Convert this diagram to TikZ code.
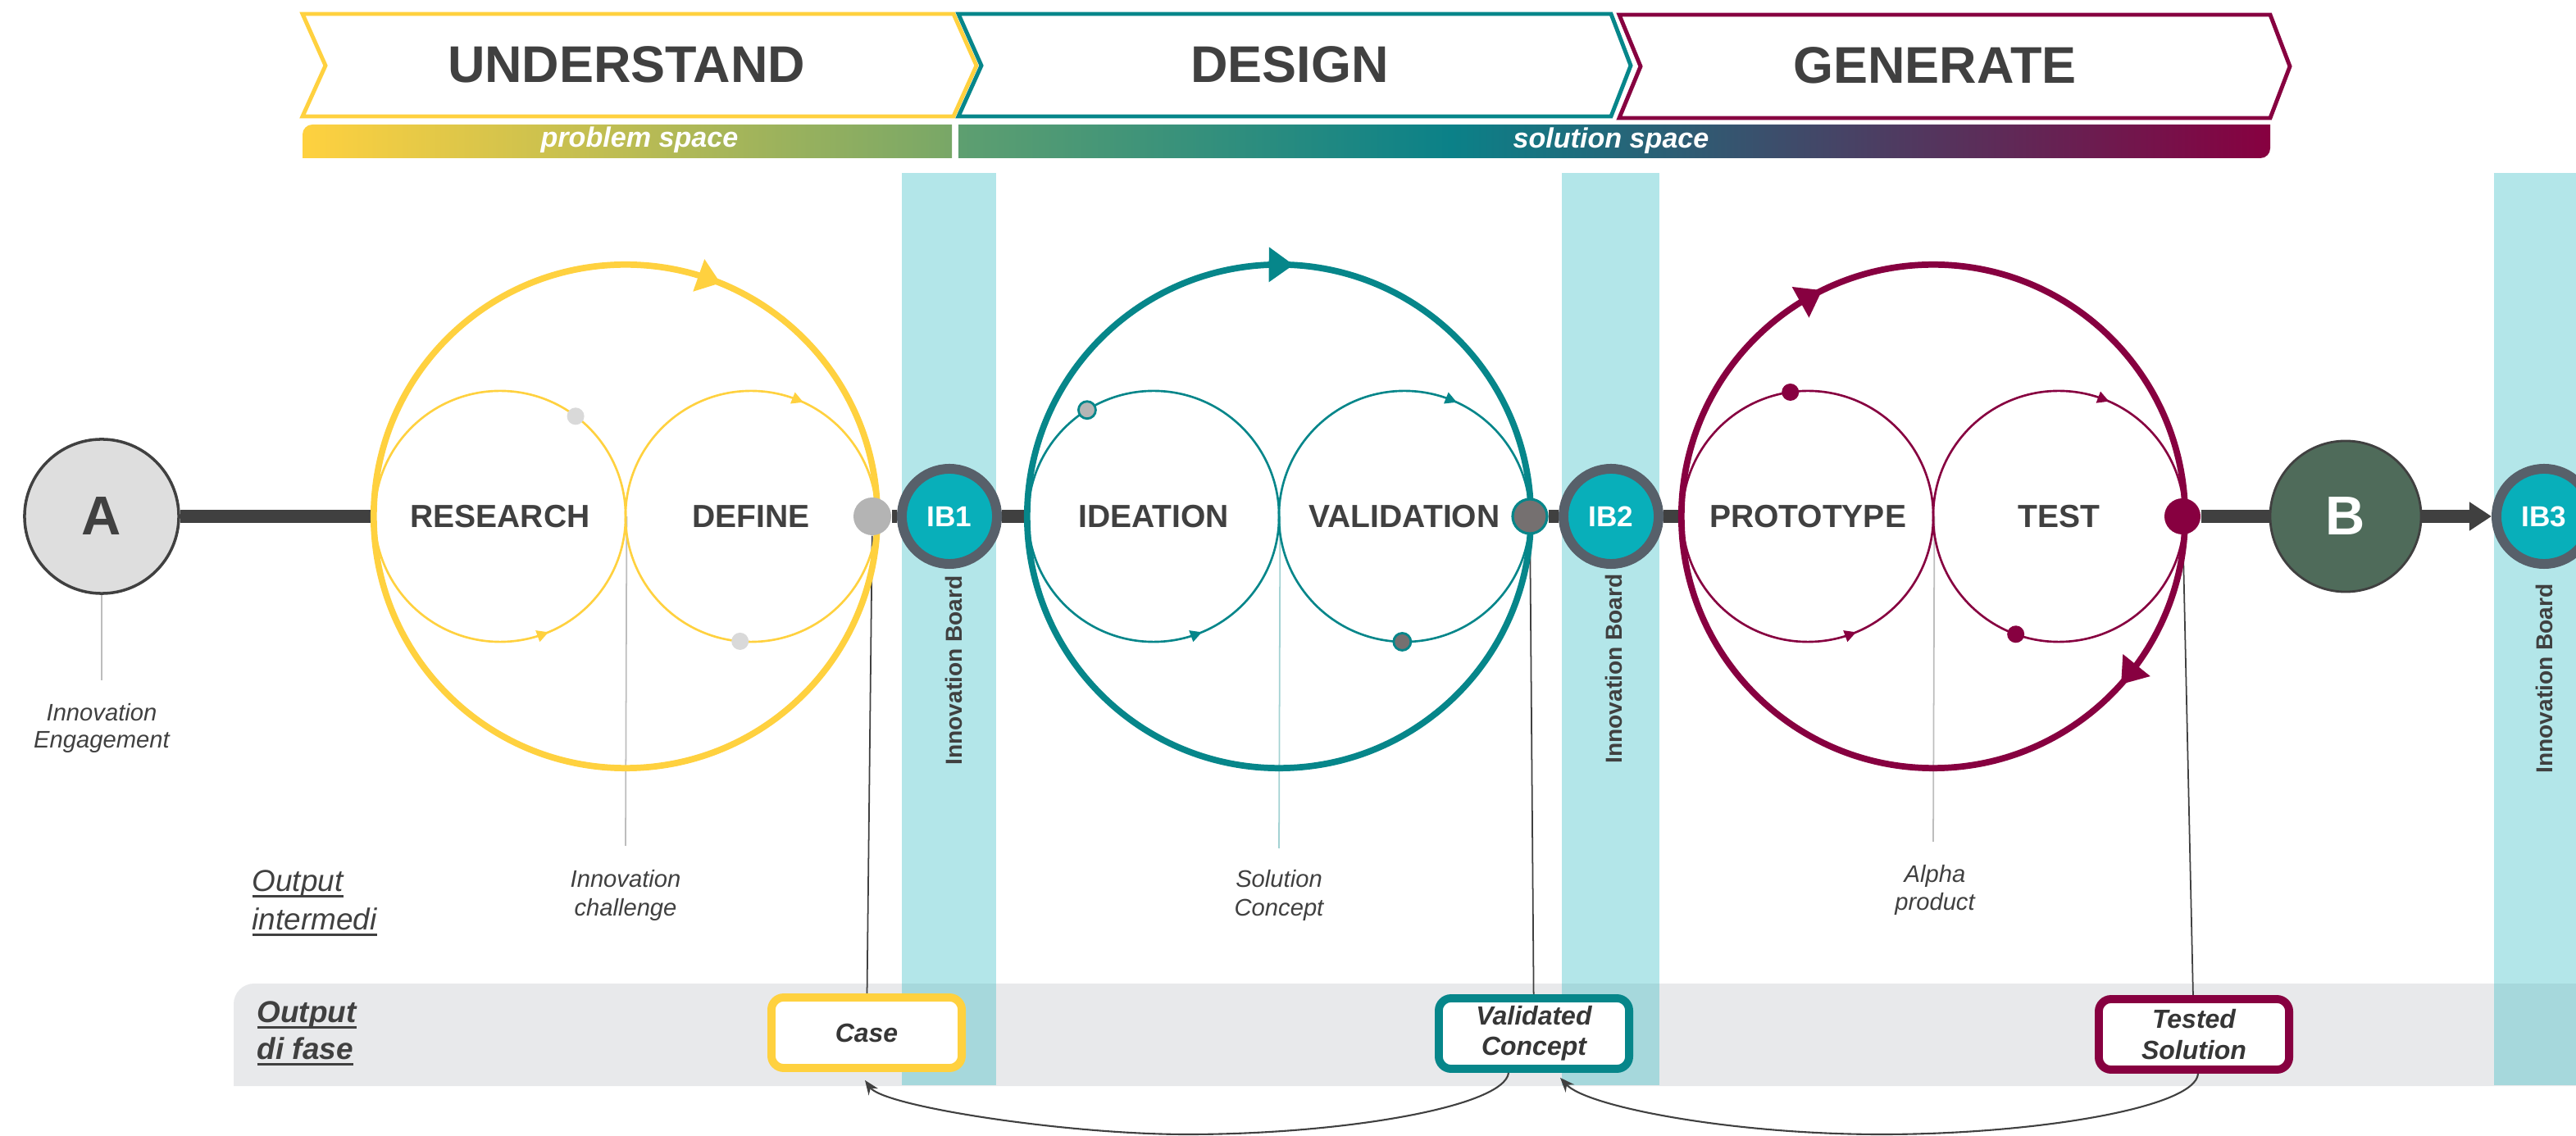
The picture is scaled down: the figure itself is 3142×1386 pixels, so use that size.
\documentclass[tikz,border=0pt]{standalone}
\usepackage{fontspec}
\setmainfont{Liberation Sans}
\usetikzlibrary{arrows.meta,calc}
\pgfdeclarelayer{bg}
\pgfsetlayers{bg,main}
\definecolor{ylw}{HTML}{FFD13F}
\definecolor{tl}{HTML}{06868A}
\definecolor{mr}{HTML}{870040}
\definecolor{dk}{HTML}{404040}
\definecolor{ibfill}{HTML}{08AFBA}
\definecolor{ibedge}{HTML}{57606A}
\definecolor{bandc}{HTML}{B3E6E9}
\definecolor{gband}{HTML}{E8E9EB}
\definecolor{overlapc}{HTML}{A6D8DC}
\definecolor{bfill}{HTML}{4F6B5A}
\definecolor{afill}{HTML}{DEDEDE}
\definecolor{jyc}{HTML}{B4B4B4}
\definecolor{lgray}{HTML}{B5B5B5}
\definecolor{ltgray}{HTML}{D9D9D9}
\definecolor{dgdot}{HTML}{757070}
\definecolor{ltteal}{HTML}{A3D2D3}
\definecolor{ltline}{HTML}{BDBDBD}
\definecolor{gA}{HTML}{78A767}
\definecolor{gB}{HTML}{5E9F70}
\definecolor{midt}{HTML}{0B8188}
\pgfdeclarehorizontalshading{probshade}{100bp}{color(0bp)=(ylw); color(25bp)=(ylw); color(75bp)=(gA); color(100bp)=(gA)}
\pgfdeclarehorizontalshading{solshade}{100bp}{color(0bp)=(gB); color(25bp)=(gB); color(43.75bp)=(midt); color(75bp)=(mr); color(100bp)=(mr)}
\newcommand\myul[1]{\setbox0=\hbox{#1}\rlap{\rule[-2.3pt]{\wd0}{0.9pt}}\box0}
\newcommand\arrmark[6]{\begin{scope}[shift={(#1.center)}, rotate=#3]\fill[#4] (#2,{-(#5)}) -- ({#2-#6},{#5}) -- ({#2+#6},{#5}) -- cycle;\end{scope}}
\begin{document}
\begin{tikzpicture}[x=0.01cm, y=0.01cm,
  thickl/.style={dk, line width=4.55pt},
  bigc/.style={circle, minimum size=6.14cm, inner sep=0pt, line width=2.2pt},
  innerc/.style={circle, minimum size=3.06cm, inner sep=0pt, line width=0.75pt, text=dk, font=\fontsize{11.1}{13}\selectfont\bfseries},
  smalldot/.style={circle, inner sep=0pt, minimum size=0.21cm},
  ib/.style={circle, fill=ibfill, draw=ibedge, line width=3.4pt, minimum size=1.16cm, inner sep=0pt, text=white, font=\fontsize{10}{12}\selectfont\bfseries},
  board/.style={rotate=90, text=dk, font=\fontsize{8}{10}\selectfont\bfseries},
  chev/.style={fill=white, line width=1.4pt},
  phase/.style={text=dk, font=\fontsize{17.9}{20}\selectfont\bfseries},
  bartext/.style={text=white, anchor=base, font=\fontsize{9.7}{11}\selectfont\bfseries\itshape},
  note/.style={text=dk, anchor=base, font=\fontsize{8.3}{10}\selectfont\itshape},
  rowlbl/.style={text=dk, anchor=base west, inner sep=0pt, font=\fontsize{10.5}{12}\selectfont\itshape},
  rowlblb/.style={rowlbl, font=\fontsize{10.5}{12}\selectfont\bfseries\itshape},
  outbox/.style={rectangle, rounded corners=0.15cm, fill=white, line width=2.8pt, minimum width=2.32cm, minimum height=0.86cm, inner sep=0pt, align=center, text=dk!85!black, font=\fontsize{9.1}{10.6}\selectfont\bfseries\itshape},
  pline/.style={line width=0.5pt, dk},
  vline/.style={line width=0.5pt},
  feedback/.style={line width=0.6pt, dk, -{Stealth[length=5pt, width=4pt]}}
]
\useasboundingbox (0,0) rectangle (3142,-1386);
\clip (0,0) rectangle (3142,-1386);

% ---- header chevrons
\draw[chev, draw=ylw] (369,-17) -- (1163,-17) -- (1191,-80) -- (1163,-142) -- (369,-142) -- (397,-80) -- cycle;
\draw[chev, draw=tl] (1169,-17) -- (1965,-17) -- (1989,-80) -- (1965,-142) -- (1169,-142) -- (1197,-80) -- cycle;
\draw[chev, draw=mr] (1975,-18) -- (2769,-18) -- (2793,-81) -- (2769,-144) -- (1975,-144) -- (2001,-81) -- cycle;
\node[phase] (tU) at (764,-79) {UNDERSTAND};
\node[phase] (tD) at (1573,-79) {DESIGN};
\node[phase] (tG) at (2360,-80) {GENERATE};

% ---- gradient bars
\shade[shading=probshade] (369,-193) -- (369,-164) arc[start angle=180, end angle=90, radius=12] -- (1161,-152) -- (1161,-193) -- cycle;
\shade[shading=solshade] (1169,-152) -- (2769,-152) -- (2769,-181) arc[start angle=0, end angle=-90, radius=12] -- (1169,-193) -- cycle;
\node[bartext] (pb) at (780,-180) {problem space};
\node[bartext] (sl) at (1965,-181) {solution space};

% ---- main nodes
\node[circle, draw=dk, fill=afill, line width=1pt, minimum size=1.88cm, inner sep=0pt, text=dk, font=\fontsize{19}{22}\selectfont\bfseries] (A) at (124,-630) {A};

\node[bigc, draw=ylw] (Y) at (763,-630) {};
\node[bigc, draw=tl] (T) at (1560,-630) {};
\node[bigc, draw=mr] (M) at (2358,-630) {};

\node[innerc, draw=ylw] (R) at (610,-630) {RESEARCH};
\node[innerc, draw=ylw] (D) at (916,-630) {DEFINE};
\node[innerc, draw=tl] (I) at (1407,-630) {IDEATION};
\node[innerc, draw=tl] (V) at (1713,-630) {VALIDATION};
\node[innerc, draw=mr] (P) at (2205,-630) {PROTOTYPE};
\node[innerc, draw=mr] (Te) at (2511,-630) {TEST};

% arrowheads on circles
\arrmark{Y}{307}{70.5}{ylw}{14}{21}
\arrmark{T}{307}{89.5}{tl}{15}{21.5}
\arrmark{M}{307}{119}{mr}{15}{21.5}
\arrmark{M}{307}{-39}{mr}{15}{21.5}
\arrmark{R}{153}{-70}{ylw}{-7}{7.5}
\arrmark{D}{153}{68}{ylw}{7}{7.5}
\arrmark{I}{153}{-70}{tl}{-7}{7.5}
\arrmark{V}{153}{68}{tl}{7}{7.5}
\arrmark{P}{153}{-70}{mr}{-7}{7.5}
\arrmark{Te}{153}{69}{mr}{7}{7.5}

% dots on inner circles
\node[smalldot, fill=ltgray] (d1) at ($(R)+(53:153)$) {};
\node[smalldot, fill=ltgray] (d2) at ($(D)+(-95:153)$) {};
\node[smalldot, fill=lgray, draw=tl, line width=0.8pt] (d3) at ($(I)+(122:153)$) {};
\node[smalldot, fill=dgdot, draw=tl, line width=0.8pt] (d4) at ($(V)+(-91:153)$) {};
\node[smalldot, fill=mr] (d5) at ($(P)+(98:153)$) {};
\node[smalldot, fill=mr] (d6) at ($(Te)+(-110:153)$) {};

% junction dots
\node[circle, fill=jyc, minimum size=0.46cm, inner sep=0pt] (jy) at (1064,-630) {};
\node[circle, fill=dgdot, draw=tl, line width=0.9pt, minimum size=0.42cm, inner sep=0pt] (jt) at (1866,-630) {};
\node[circle, fill=mr, minimum size=0.44cm, inner sep=0pt] (jm) at (2662,-630) {};

% innovation boards
\node[ib] (IB1) at (1158,-630) {IB1};
\node[ib] (IB2) at (1965,-630) {IB2};
\node[ib] (IB3) at (3103,-630) {IB3};
\node[board] (bd1) at (1163,-818) {Innovation Board};
\node[board] (bd2) at (1968,-816) {Innovation Board};
\node[board] (bd3) at (3103,-828) {Innovation Board};

\node[circle, fill=bfill, draw=black!75, line width=0.8pt, minimum size=1.84cm, inner sep=0pt, text=white, font=\fontsize{19}{22}\selectfont\bfseries] (B) at (2861,-630) {B};

% output boxes
\node[outbox, draw=ylw] (case) at (1057,-1260) {Case};
\node[outbox, draw=tl] (vc) at (1871,-1261) {Validated\\Concept};
\node[outbox, draw=mr] (ts) at (2676,-1262) {Tested\\Solution};

% labels
\node[note] (ie1) at (124,-880) {Innovation};
\node[note] (ie2) at (124,-913) {Engagement};
\node[note] (ic1) at (763,-1083) {Innovation};
\node[note] (ic2) at (763,-1117) {challenge};
\node[note] (sc1) at (1560,-1083) {Solution};
\node[note] (sc2) at (1560,-1117) {Concept};
\node[note] (ap1) at (2360,-1077) {Alpha};
\node[note] (ap2) at (2360,-1110) {product};

\node[rowlbl] (oi1) at (307,-1087) {\myul{Output}};
\node[rowlbl] (oi2) at (307,-1134) {\myul{intermedi}};
\node[rowlblb] (of1) at (313,-1247) {\myul{Output}};
\node[rowlblb] (of2) at (313,-1292) {\myul{di fase}};

\coordinate (eA) at (124,-830);
\coordinate (eY) at (763,-1032);
\coordinate (eT) at (1560,-1035);
\coordinate (eM) at (2358,-1027);

% ---- background layer
\begin{pgfonlayer}{bg}
\clip (0,0) rectangle (3142,-1386);
\fill[gband] (285,-1325) -- (285,-1225) arc[start angle=180, end angle=90, radius=25] -- (3142,-1200) -- (3142,-1325) -- cycle;
\fill[bandc] (1100,-211) rectangle (1215,-1324);
\fill[bandc] (1905,-211) rectangle (2024,-1324);
\fill[bandc] (3042,-211) rectangle (3142,-1324);
\fill[overlapc] (1100,-1200) rectangle (1215,-1324);
\fill[overlapc] (1905,-1200) rectangle (2024,-1324);
\fill[overlapc] (3042,-1200) rectangle (3142,-1324);

\draw[thickl] (A) -- (Y);
\draw[thickl] (jy) -- (IB1);
\draw[thickl] (IB1) -- (T);
\draw[thickl] (jt) -- (IB2);
\draw[thickl] (IB2) -- (M);
\draw[thickl] (jm) -- (B);
\draw[thickl, -{Triangle[length=7.7pt, width=9.5pt]}] (B) -- (IB3);

\draw[vline, ltline] (A.south) -- (eA);
\draw[vline, ltline] (R.east) -- (eY);
\draw[vline, ltteal] (I.east) -- (eT);
\draw[vline, ltline] (P.east) -- (eM);

\draw[pline] (jy) -- (case);
\draw[pline] (jt) -- (vc);
\draw[pline] (jm) -- (ts);
\end{pgfonlayer}

% ---- feedback arrows
\draw[feedback] ($(vc.south)+(-31,0)$) .. controls (1835,-1350) and (1640,-1384) .. (1448,-1384) .. controls (1300,-1384) and (1078,-1350) .. ($(case.south)+(-2,-10)$);
\draw[feedback] ($(ts.south)+(5,0)$) .. controls (2678,-1352) and (2480,-1384) .. (2295,-1384) .. controls (2110,-1384) and (1935,-1350) .. ($(vc.south)+(32,-6)$);
\end{tikzpicture}
\end{document}
